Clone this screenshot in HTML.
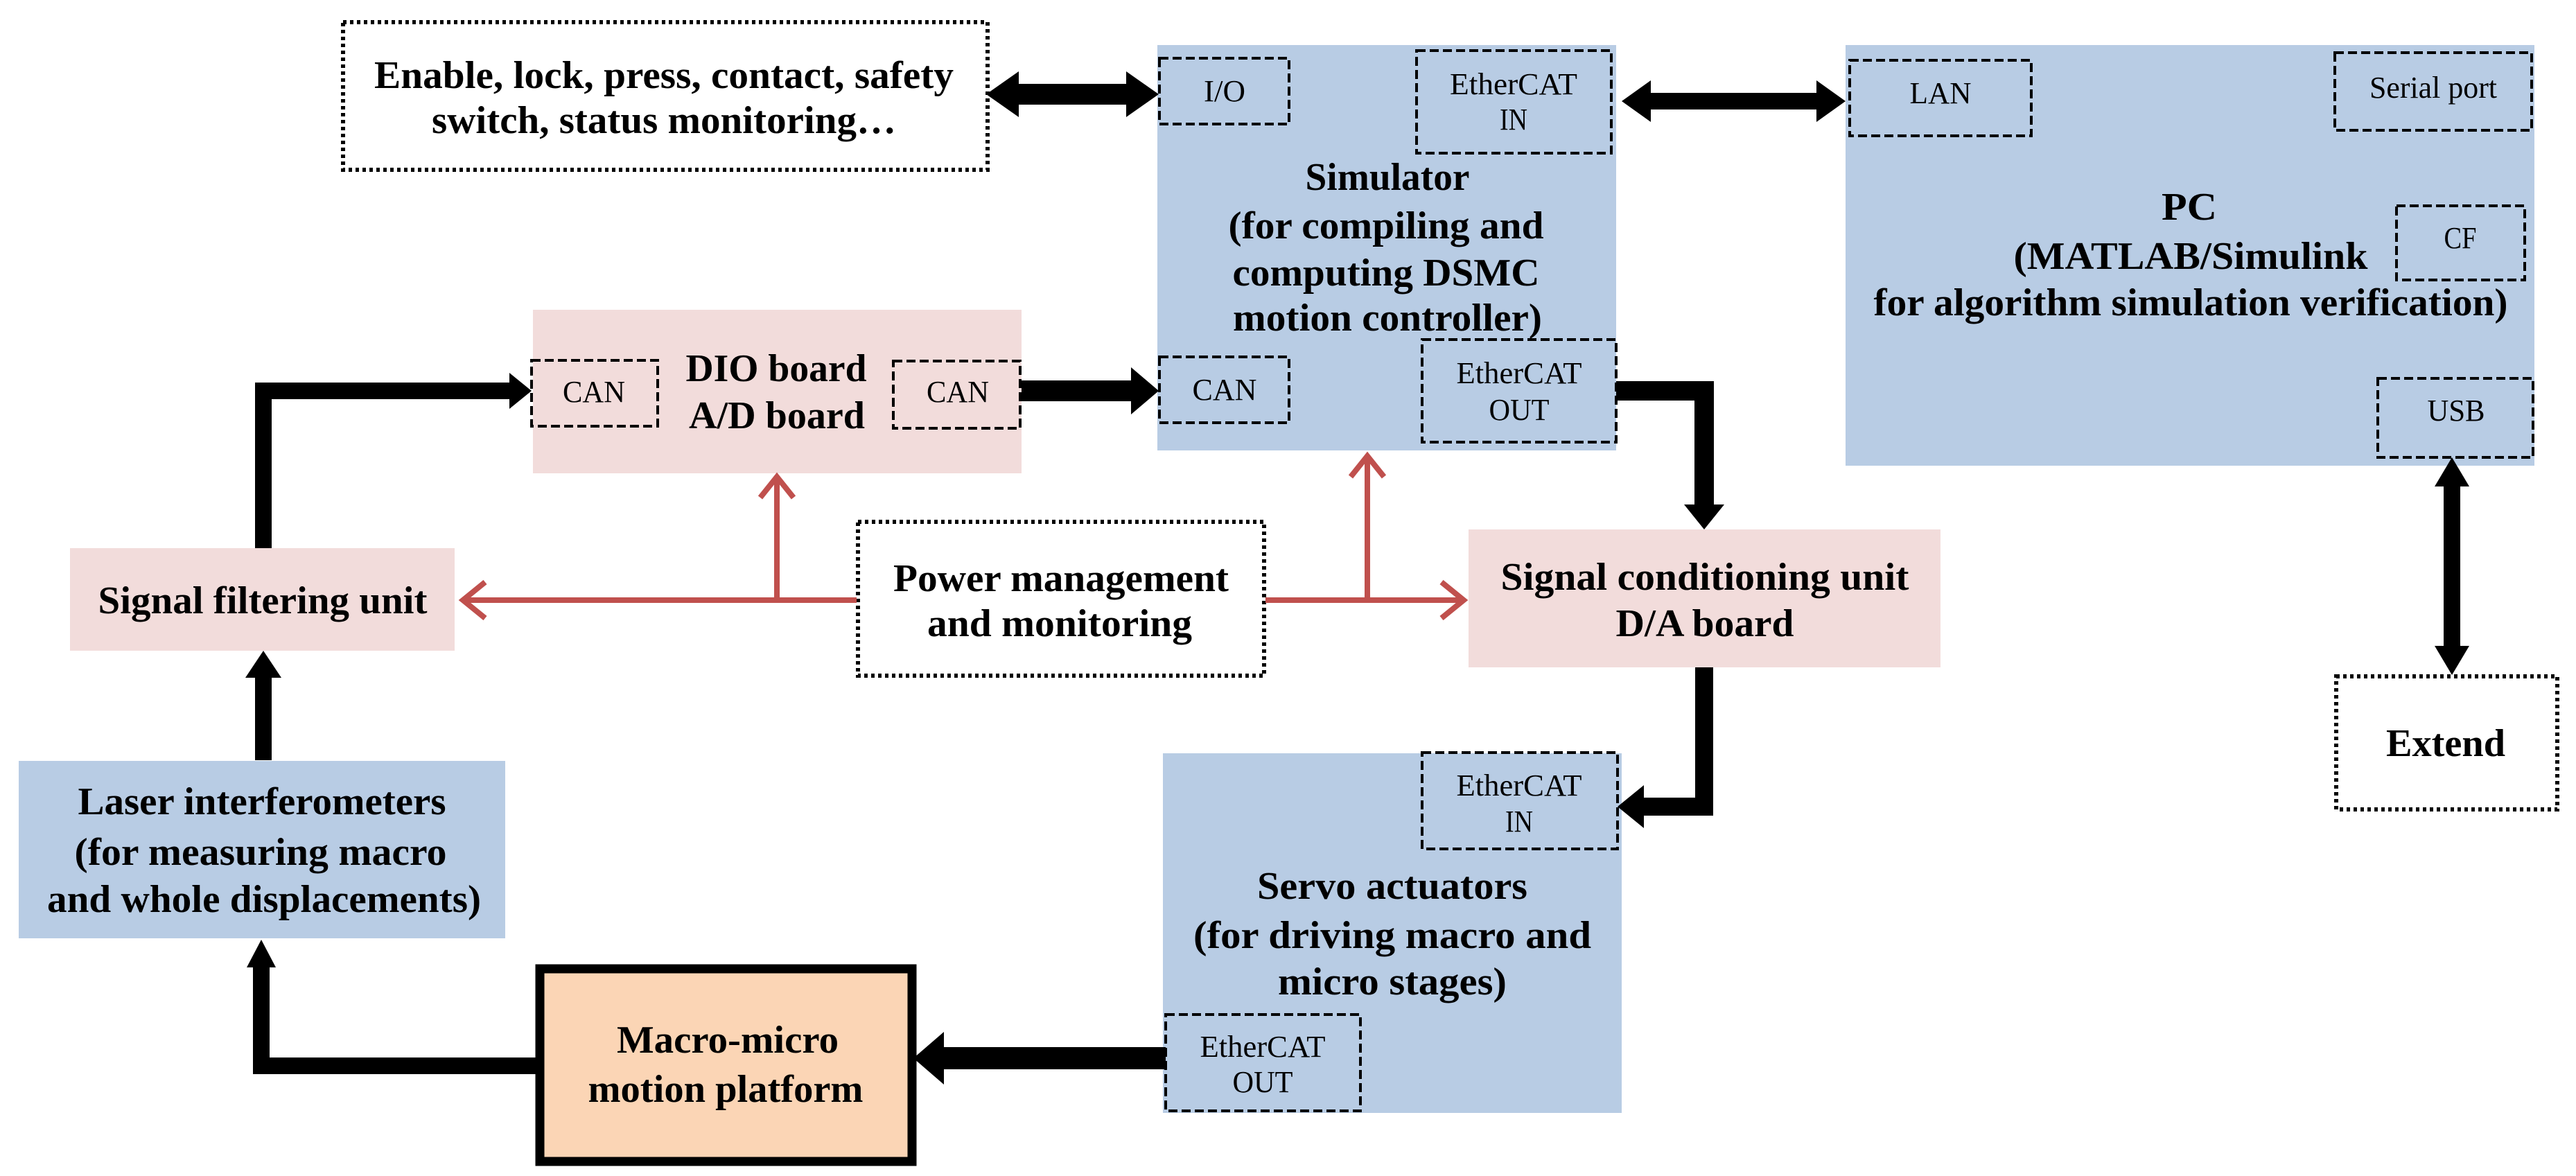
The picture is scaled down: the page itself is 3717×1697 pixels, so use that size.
<!DOCTYPE html>
<html><head><meta charset="utf-8"><style>
html,body{margin:0;padding:0;background:#fff;}
svg{display:block;}
text{font-family:"Liberation Serif",serif;fill:#000;}
.b{font-weight:bold;font-size:56px;}
.s{font-size:44px;}
</style></head><body>
<svg width="3717" height="1697" viewBox="0 0 3717 1697" xmlns="http://www.w3.org/2000/svg">
<!-- main boxes -->
<rect x="1670" y="65" width="662" height="585" fill="#b8cce4"/>
<rect x="2663" y="65" width="994" height="607" fill="#b8cce4"/>
<rect x="769" y="447" width="705" height="236" fill="#f2dcdb"/>
<rect x="101" y="791" width="555" height="148" fill="#f2dcdb"/>
<rect x="2119" y="764" width="681" height="199" fill="#f2dcdb"/>
<rect x="27" y="1098" width="702" height="256" fill="#b8cce4"/>
<rect x="1678" y="1087" width="662" height="519" fill="#b8cce4"/>
<rect x="779" y="1398" width="537" height="278" fill="#fbd5b5" stroke="#000" stroke-width="13"/>
<!-- dotted boxes -->
<g fill="none" stroke="#000" stroke-width="6" stroke-dasharray="5 5">
<rect x="495" y="32" width="930" height="213"/>
<rect x="1238" y="753" width="586" height="222"/>
<rect x="3371" y="976" width="319" height="192"/>
</g>
<!-- dashed sub boxes -->
<g fill="none" stroke="#000" stroke-width="4" stroke-dasharray="13 6">
<rect x="1673" y="84" width="187" height="95"/>
<rect x="2044" y="73" width="281" height="148"/>
<rect x="1673" y="515" width="187" height="95"/>
<rect x="2052" y="490" width="280" height="148"/>
<rect x="767" y="520" width="182" height="95"/>
<rect x="1289" y="521" width="183" height="97"/>
<rect x="2669" y="87" width="262" height="109"/>
<rect x="3369" y="76" width="284" height="112"/>
<rect x="3458" y="297" width="185" height="107"/>
<rect x="3431" y="546" width="224" height="114"/>
<rect x="2052" y="1086" width="282" height="139"/>
<rect x="1682" y="1464" width="281" height="139"/>
</g>
<!-- black arrows -->
<g stroke="#000" fill="none">
<line x1="1460" y1="136" x2="1635" y2="136" stroke-width="30"/>
<line x1="2375" y1="146" x2="2628" y2="146" stroke-width="24"/>
<line x1="1474" y1="564" x2="1640" y2="564" stroke-width="30"/>
<polyline points="380,791 380,564 740,564" stroke-width="24"/>
<line x1="380" y1="1097" x2="380" y2="970" stroke-width="24"/>
<polyline points="779,1538 377,1538 377,1390" stroke-width="24"/>
<line x1="1358" y1="1527" x2="1682" y2="1527" stroke-width="32"/>
<polyline points="2332,564 2459,564 2459,735" stroke-width="28"/>
<polyline points="2459,963 2459,1164 2368,1164" stroke-width="26"/>
<line x1="3538" y1="695" x2="3538" y2="940" stroke-width="24"/>
</g>
<g fill="#000">
<polygon points="1423,136 1470,103 1470,169"/>
<polygon points="1672,136 1625,103 1625,169"/>
<polygon points="2340,146 2382,116 2382,176"/>
<polygon points="2663,146 2621,116 2621,176"/>
<polygon points="1672,564 1632,530 1632,598"/>
<polygon points="767,564 735,538 735,590"/>
<polygon points="380,939 354,978 406,978"/>
<polygon points="377,1356 356,1396 398,1396"/>
<polygon points="1318,1527 1362,1489 1362,1565"/>
<polygon points="2459,764 2430,728 2488,728"/>
<polygon points="2334,1164 2372,1133 2372,1195"/>
<polygon points="3538,660 3513,702 3563,702"/>
<polygon points="3538,974 3513,932 3563,932"/>
</g>
<!-- red arrows -->
<g stroke="#c0504d" stroke-width="8" fill="none">
<line x1="668" y1="866" x2="1236" y2="866"/>
<line x1="1826" y1="866" x2="2112" y2="866"/>
<line x1="1121" y1="866" x2="1121" y2="688"/>
<line x1="1973" y1="866" x2="1973" y2="658"/>
<polyline points="700,840 668,866 700,892"/>
<polyline points="2080,840 2112,866 2080,892"/>
<polyline points="1097,718 1121,688 1145,718"/>
<polyline points="1949,688 1973,658 1997,688"/>
</g>
<!-- text -->
<g class="b" text-anchor="middle">
<text x="958" y="127" textLength="836" lengthAdjust="spacingAndGlyphs">Enable, lock, press, contact, safety</text>
<text x="958" y="192" textLength="670" lengthAdjust="spacingAndGlyphs">switch, status monitoring…</text>
<text x="2002" y="274" textLength="237" lengthAdjust="spacingAndGlyphs">Simulator</text>
<text x="2000" y="344" textLength="455" lengthAdjust="spacingAndGlyphs">(for compiling and</text>
<text x="2000" y="412" textLength="443" lengthAdjust="spacingAndGlyphs">computing DSMC</text>
<text x="2002" y="477" textLength="446" lengthAdjust="spacingAndGlyphs">motion controller)</text>
<text x="3159" y="317" textLength="80" lengthAdjust="spacingAndGlyphs">PC</text>
<text x="3161" y="388" textLength="511" lengthAdjust="spacingAndGlyphs">(MATLAB/Simulink</text>
<text x="3161" y="455" textLength="915" lengthAdjust="spacingAndGlyphs">for algorithm simulation verification)</text>
<text x="1120" y="550" textLength="261" lengthAdjust="spacingAndGlyphs">DIO board</text>
<text x="1121" y="618" textLength="254" lengthAdjust="spacingAndGlyphs">A/D board</text>
<text x="379" y="885" textLength="475" lengthAdjust="spacingAndGlyphs">Signal filtering unit</text>
<text x="1531" y="853" textLength="484" lengthAdjust="spacingAndGlyphs">Power management</text>
<text x="1529" y="918" textLength="382" lengthAdjust="spacingAndGlyphs">and monitoring</text>
<text x="2460" y="851" textLength="589" lengthAdjust="spacingAndGlyphs">Signal conditioning unit</text>
<text x="2460" y="918" textLength="257" lengthAdjust="spacingAndGlyphs">D/A board</text>
<text x="3529" y="1091" textLength="172" lengthAdjust="spacingAndGlyphs">Extend</text>
<text x="378" y="1175" textLength="531" lengthAdjust="spacingAndGlyphs">Laser interferometers</text>
<text x="376" y="1248" textLength="537" lengthAdjust="spacingAndGlyphs">(for measuring macro</text>
<text x="381" y="1316" textLength="626" lengthAdjust="spacingAndGlyphs">and whole displacements)</text>
<text x="2009" y="1297" textLength="390" lengthAdjust="spacingAndGlyphs">Servo actuators</text>
<text x="2009" y="1368" textLength="574" lengthAdjust="spacingAndGlyphs">(for driving macro and</text>
<text x="2009" y="1435" textLength="330" lengthAdjust="spacingAndGlyphs">micro stages)</text>
<text x="1050" y="1519" textLength="320" lengthAdjust="spacingAndGlyphs">Macro-micro</text>
<text x="1047" y="1590" textLength="397" lengthAdjust="spacingAndGlyphs">motion platform</text>
</g>
<g class="s" text-anchor="middle">
<text x="1767" y="146" textLength="60" lengthAdjust="spacingAndGlyphs">I/O</text>
<text x="2184" y="136" textLength="184" lengthAdjust="spacingAndGlyphs">EtherCAT</text>
<text x="2184" y="187" textLength="40" lengthAdjust="spacingAndGlyphs">IN</text>
<text x="1767" y="577" textLength="93" lengthAdjust="spacingAndGlyphs">CAN</text>
<text x="2192" y="553" textLength="181" lengthAdjust="spacingAndGlyphs">EtherCAT</text>
<text x="2192" y="606" textLength="87" lengthAdjust="spacingAndGlyphs">OUT</text>
<text x="857" y="580" textLength="90" lengthAdjust="spacingAndGlyphs">CAN</text>
<text x="1382" y="580" textLength="90" lengthAdjust="spacingAndGlyphs">CAN</text>
<text x="2800" y="149" textLength="89" lengthAdjust="spacingAndGlyphs">LAN</text>
<text x="3511" y="141" textLength="184" lengthAdjust="spacingAndGlyphs">Serial port</text>
<text x="3550" y="358" textLength="47" lengthAdjust="spacingAndGlyphs">CF</text>
<text x="3544" y="607" textLength="83" lengthAdjust="spacingAndGlyphs">USB</text>
<text x="2192" y="1148" textLength="181" lengthAdjust="spacingAndGlyphs">EtherCAT</text>
<text x="2192" y="1200" textLength="40" lengthAdjust="spacingAndGlyphs">IN</text>
<text x="1822" y="1525" textLength="181" lengthAdjust="spacingAndGlyphs">EtherCAT</text>
<text x="1822" y="1576" textLength="87" lengthAdjust="spacingAndGlyphs">OUT</text>
</g>
</svg>
</body></html>
